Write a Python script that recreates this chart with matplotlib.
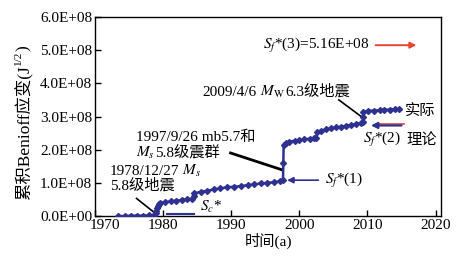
import matplotlib
matplotlib.use('Agg')
import matplotlib.pyplot as plt
import matplotlib.transforms as mtransforms
from matplotlib.ticker import FuncFormatter
import numpy as np

plt.rcParams['font.family'] = ['Liberation Serif', 'Noto Sans CJK SC']
plt.rcParams['mathtext.fontset'] = 'stix'
plt.rcParams['font.size'] = 11

# cumulative Benioff strain, units of 1e8 J^1/2
years = [1973.4, 1974.4, 1975.3, 1976.2, 1977.0, 1977.9, 1978.7, 1978.9, 1979.0,
         1979.1, 1979.2, 1979.4, 1979.5, 1980.3, 1981.1, 1981.9, 1982.7, 1983.5,
         1984.3, 1984.5, 1984.6, 1985.5, 1986.5, 1987.4, 1988.4, 1989.4, 1990.4,
         1991.4, 1992.4, 1993.3, 1994.3, 1995.3, 1996.3, 1997.2, 1997.6, 1997.65,
         1997.7, 1998.1, 1998.5, 1999.3, 2000.0, 2000.7, 2001.5, 2002.2, 2002.5,
         2002.55, 2003.2, 2003.9, 2004.7, 2005.4, 2006.1, 2006.9, 2007.6, 2008.3,
         2009.0, 2009.3, 2009.35, 2009.4, 2010.1, 2011.0, 2011.8, 2012.5, 2013.3,
         2014.0, 2014.7]
strain = [0.0, 0.0, 0.01, 0.01, 0.01, 0.02, 0.03, 0.1, 0.15,
          0.25, 0.3, 0.35, 0.4, 0.42, 0.44, 0.46, 0.48, 0.5,
          0.52, 0.6, 0.68, 0.73, 0.76, 0.8, 0.83, 0.87, 0.88,
          0.9, 0.93, 0.95, 0.98, 1.0, 1.02, 1.05, 1.09, 1.6,
          2.14, 2.2, 2.24, 2.27, 2.29, 2.31, 2.33, 2.35, 2.36,
          2.54, 2.57, 2.61, 2.64, 2.67, 2.69, 2.72, 2.75, 2.77,
          2.79, 2.84, 3.0, 3.14, 3.17, 3.18, 3.19, 3.2, 3.21,
          3.22, 3.22]

sc_years = [1980.6, 1984.5]
sc_level = 0.05
sf1 = 1.08
sf2 = 2.78
sf3 = 5.16

xticks = [1970, 1980, 1990, 2000, 2010, 2020]
yticks = [0, 1, 2, 3, 4, 5, 6]

blue = '#2e3192'
red = '#e8452c'
E = 1e8

fig = plt.figure(figsize=(4.67, 2.63), dpi=100)
ax = fig.add_axes([95 / 467, 1 - 216 / 263, (441 - 95) / 467, (216 - 17) / 263])


def rich(x, y, parts, size=11):
    # serif text pieces and mathtext pieces next to each other on one baseline
    t = ax.text(x, y, parts[0], fontsize=size, ha='left', va='baseline')
    for p in parts[1:]:
        t = ax.annotate(p, xy=(1, y), xycoords=(t, 'data'), fontsize=size,
                        ha='left', va='baseline')
    return t


ax.plot(years, np.array(strain) * E, color=blue, lw=1.8, marker='D', ms=3, zorder=3)
ax.plot(sc_years, [sc_level * E] * 2, color=blue, lw=1.5)

ax.set_xlim(1970, 2020.8)
ax.set_ylim(0, 6 * E)
ax.set_xticks(xticks)
ax.set_yticks(np.array(yticks) * E)
ax.yaxis.set_major_formatter(FuncFormatter(lambda v, p: f'{v:.1E}'))
ax.tick_params(direction='in', length=4, width=1, labelsize=11, pad=2)
for s in ax.spines.values():
    s.set_linewidth(1)

ax.set_xlabel('时间(a)', fontsize=11, labelpad=1)

# y label, rotated, built from pieces so the CJK glyphs keep their font
yl1 = ax.text(-0.205, 0.08, '累积Benioff应变(J', rotation=90, fontsize=12.5,
              ha='center', va='bottom', transform=ax.transAxes)
yl2 = ax.annotate('1/2', xy=(0.22, 1), xycoords=yl1, rotation=90, fontsize=8,
                  ha='center', va='bottom')
ax.annotate(')', xy=(0.5, 1), xycoords=(yl1, yl2), rotation=90, fontsize=12.5,
            ha='center', va='bottom')

# S_c*
ax.text(1985.4, 0.28 * E, r'$S_c$*', fontsize=11, ha='left', va='center')

# S_f*(1)
ax.annotate('', xy=(1997.8, sf1 * E), xytext=(2003.2, sf1 * E),
            arrowprops=dict(arrowstyle='-|>', color=blue, lw=1.2, mutation_scale=9))
ax.text(2003.7, sf1 * E, r'$S_f$*(1)', fontsize=11, ha='left', va='center')

# S_f*(2)
ax.annotate('', xy=(2010.1, (sf2 - 0.05) * E), xytext=(2015.4, (sf2 - 0.05) * E),
            arrowprops=dict(arrowstyle='-|>', color=blue, lw=1.6, mutation_scale=9))
ax.plot([2011.2, 2015.4], [sf2 * E] * 2, color=red, lw=1.2)
ax.text(2009.4, 2.3 * E, r'$S_f$*(2)', fontsize=11, ha='left', va='center')
ax.text(2015.7, 2.3 * E, '理论', fontsize=11, ha='left', va='center')
ax.text(2015.5, 3.15 * E, '实际', fontsize=11, ha='left', va='center')

# S_f*(3)
ax.text(2010.3, 5.15 * E, r'$S_f$*(3)=5.16E+08', fontsize=11, ha='right', va='center')
ax.annotate('', xy=(2017.6, 5.15 * E), xytext=(2010.8, 5.15 * E),
            arrowprops=dict(arrowstyle='-|>', color=red, lw=1.4, mutation_scale=9))

# event labels
rich(1985.8, 3.63 * E, ['2009/4/6', r'$\ M_{\rm W}$', '6.3级地震'])
ax.plot([2005.8, 2009.4], [3.5 * E, 2.95 * E], color='black', lw=1.2)

rich(1976.0, 2.25 * E, ['1997/9/26 mb5.7和'])
rich(1976.0, 1.79 * E, [r'$M_s$', '5.8级震群'])
ax.plot([1989.9, 1997.5], [1.9 * E, 1.39 * E], color='black', lw=2)

rich(1972.2, 1.23 * E, ['1978/12/27', r'$\ M_s$'])
rich(1972.2, 0.8 * E, ['5.8级地震'])
ax.plot([1976.1, 1978.85], [0.53 * E, 0.08 * E], color='black', lw=1.2)

# first x label sits a little to the right in the original
lab = ax.xaxis.get_major_ticks()[0].label1
lab.set_transform(lab.get_transform() + mtransforms.ScaledTranslation(10 / 100, 0, fig.dpi_scale_trans))

fig.savefig('out.png', dpi=100)
